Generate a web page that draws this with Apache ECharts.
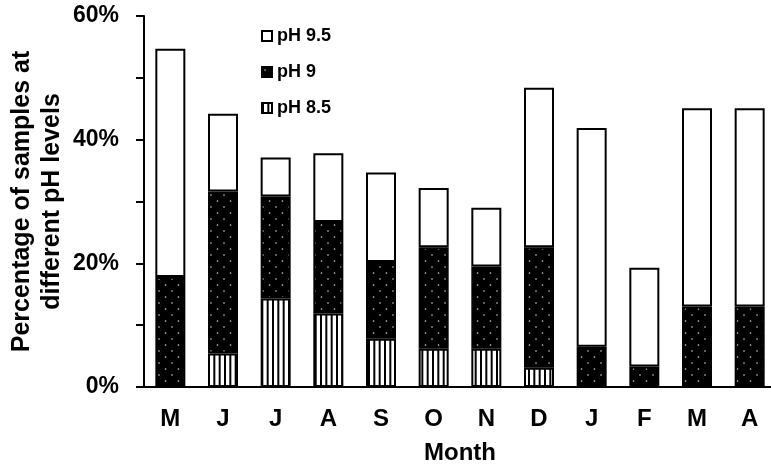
<!DOCTYPE html>
<html>
<head>
<meta charset="utf-8">
<script src="https://cdn.jsdelivr.net/npm/echarts@6/dist/echarts.min.js"></script>
<style>
html,body{margin:0;padding:0;background:#fff;}
#chart{width:771px;height:473px;}
</style>
</head>
<body>
<div id="chart"></div>
<script>
// Data (percent of samples, stacked segment values)
var months = ['M','J','J','A','S','O','N','D','J','F','M','A'];
var ph85 = [0, 5.4, 14.3, 11.9, 7.8, 6.2, 6.2, 3.1, 0, 0, 0, 0];
var ph9  = [17.8, 26.2, 16.5, 14.8, 12.4, 16.4, 13.3, 19.5, 6.5, 3.3, 13.0, 13.0];
var ph95 = [36.9, 12.6, 6.3, 11.1, 14.5, 9.6, 9.5, 25.8, 35.4, 16.0, 32.1, 32.1];
var yTicks = [0, 20, 40, 60];

// Patterns
function dotPattern(){
  var c = document.createElement('canvas');
  c.width = 13; c.height = 12;
  var g = c.getContext('2d');
  g.fillStyle = '#000'; g.fillRect(0,0,13,12);
  g.fillStyle = '#d8d8d8';
  g.beginPath(); g.arc(3,3,0.8,0,Math.PI*2); g.fill();
  g.beginPath(); g.arc(9.5,9,0.8,0,Math.PI*2); g.fill();
  return c;
}
function stripePattern(){
  var c = document.createElement('canvas');
  c.width = 16; c.height = 8;
  var g = c.getContext('2d');
  g.fillStyle = '#fff'; g.fillRect(0,0,16,8);
  g.fillStyle = '#000';
  g.fillRect(0,0,2,8);
  g.fillRect(5.33,0,2,8);
  g.fillRect(10.67,0,2,8);
  return c;
}

var FONT = '"Liberation Sans", Arial, sans-serif';
var chart = echarts.init(document.getElementById('chart'), null, {renderer:'canvas'});
var barStyle = {borderColor:'#000', borderWidth:2};

chart.setOption({
  animation: false,
  backgroundColor: '#fff',
  textStyle: {fontFamily: FONT},
  legend: {
    orient: 'vertical',
    left: 256, top: 22,
    itemWidth: 10, itemHeight: 10, itemGap: 18,
    icon: 'rect',
    data: ['pH 9.5','pH 9','pH 8.5'],
    textStyle: {fontSize: 18, fontWeight: 'bold', color: '#000', fontFamily: FONT}
  },
  grid: {left: 144, top: 16, width: 632, bottom: 86, containLabel: false, outerBoundsMode: 'none'},
  xAxis: {
    type: 'category',
    data: months,
    name: 'Month',
    nameLocation: 'middle',
    nameGap: 54,
    nameMoveOverlap: false,
    nameTextStyle: {fontSize: 24, fontWeight: 'bold', color: '#000', fontFamily: FONT},
    axisLine: {lineStyle: {color: '#000', width: 2}},
    axisTick: {alignWithLabel: true, length: 6, lineStyle: {color: '#000', width: 2}},
    axisLabel: {fontSize: 24, fontWeight: 'bold', color: '#000', margin: 20, fontFamily: FONT}
  },
  yAxis: {
    type: 'value',
    min: 0, max: 60, interval: 10,
    name: 'Percentage of samples at\ndifferent pH levels',
    nameLocation: 'middle',
    nameRotate: 90,
    nameGap: 77,
    nameMoveOverlap: false,
    nameTextStyle: {fontSize: 25, fontWeight: 'bold', color: '#000', lineHeight: 30, fontFamily: FONT},
    splitLine: {show: false},
    axisLine: {show: true, lineStyle: {color: '#000', width: 2}},
    axisTick: {show: true, length: 8, lineStyle: {color: '#000', width: 2}},
    axisLabel: {
      fontSize: 23, fontWeight: 'bold', color: '#000', margin: 25, fontFamily: FONT,
      formatter: function(v){ return yTicks.indexOf(v) >= 0 ? v + '%' : ''; }
    }
  },
  series: [
    {name:'pH 8.5', type:'bar', stack:'ph', barWidth:30, data: ph85,
     itemStyle: Object.assign({color:{image: stripePattern(), repeat:'repeat'}}, barStyle)},
    {name:'pH 9', type:'bar', stack:'ph', barWidth:30, data: ph9,
     itemStyle: Object.assign({color:{image: dotPattern(), repeat:'repeat'}}, barStyle)},
    {name:'pH 9.5', type:'bar', stack:'ph', barWidth:30, data: ph95,
     itemStyle: Object.assign({color:'#fff'}, barStyle)}
  ]
});
</script>
</body>
</html>
